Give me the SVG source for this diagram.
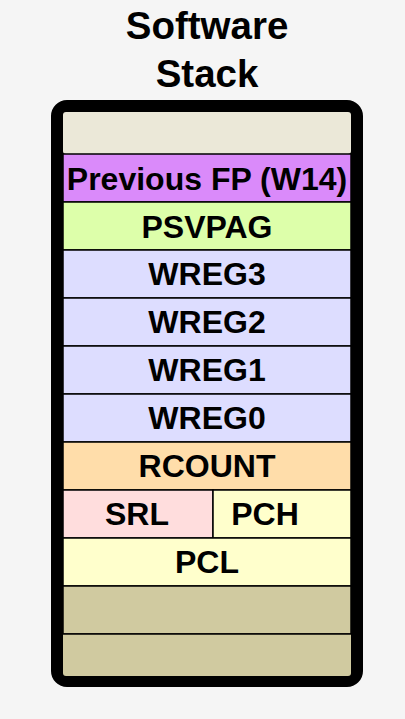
<svg xmlns="http://www.w3.org/2000/svg" width="405" height="719" viewBox="0 0 405 719">
<style>
.t{font-family:"Liberation Sans",Arial,sans-serif;font-weight:bold;fill:#000;text-anchor:middle}
.lbl{font-size:32px}
.ttl{font-size:38.5px}
.cell{stroke:#000;stroke-width:1.5}
</style>
<rect x="0" y="0" width="405" height="719" fill="#F5F5F5"/>
<g id="title">
<text class="t ttl" x="207" y="39">Software</text>
<text class="t ttl" x="207" y="87">Stack</text>
</g>
<g id="frame">
<rect x="57" y="106" width="300" height="575" rx="10" fill="#000" stroke="#000" stroke-width="12"/>
</g>
<g id="cells">
<g id="top"><rect x="63" y="112" width="288" height="42" rx="3" fill="#EBE8D8"/></g>
<g id="prevfp"><rect class="cell" x="63" y="154" width="288" height="48" fill="#DA8AFA"/><text class="t lbl" x="207" y="190">Previous FP (W14)</text></g>
<g id="psvpag"><rect class="cell" x="63" y="202" width="288" height="48" fill="#DDFFAA"/><text class="t lbl" x="207" y="238">PSVPAG</text></g>
<g id="wreg3"><rect class="cell" x="63" y="250" width="288" height="48" fill="#DDDDFF"/><text class="t lbl" x="207" y="285">WREG3</text></g>
<g id="wreg2"><rect class="cell" x="63" y="298" width="288" height="48" fill="#DDDDFF"/><text class="t lbl" x="207" y="333">WREG2</text></g>
<g id="wreg1"><rect class="cell" x="63" y="346" width="288" height="48" fill="#DDDDFF"/><text class="t lbl" x="207" y="381">WREG1</text></g>
<g id="wreg0"><rect class="cell" x="63" y="394" width="288" height="48" fill="#DDDDFF"/><text class="t lbl" x="207" y="429">WREG0</text></g>
<g id="rcount"><rect class="cell" x="63" y="442" width="288" height="48" fill="#FFDDAA"/><text class="t lbl" x="207" y="477">RCOUNT</text></g>
<g id="srl"><rect class="cell" x="63" y="490" width="150" height="48" fill="#FFDDDD"/><text class="t lbl" x="137" y="525">SRL</text></g>
<g id="pch"><rect class="cell" x="213" y="490" width="138" height="48" fill="#FFFFCC"/><text class="t lbl" x="265" y="525">PCH</text></g>
<g id="pcl"><rect class="cell" x="63" y="538" width="288" height="48" fill="#FFFFCC"/><text class="t lbl" x="207" y="573">PCL</text></g>
<g id="empty1"><rect class="cell" x="63" y="586" width="288" height="48" fill="#D0CAA0"/></g>
<g id="empty2"><path d="M63 634H351V673Q351 676 348 676H66Q63 676 63 673Z" fill="#D0CAA0"/><line x1="63" y1="634" x2="351" y2="634" stroke="#000" stroke-width="1.5"/></g>
</g>
<g id="connectors"></g>
</svg>
